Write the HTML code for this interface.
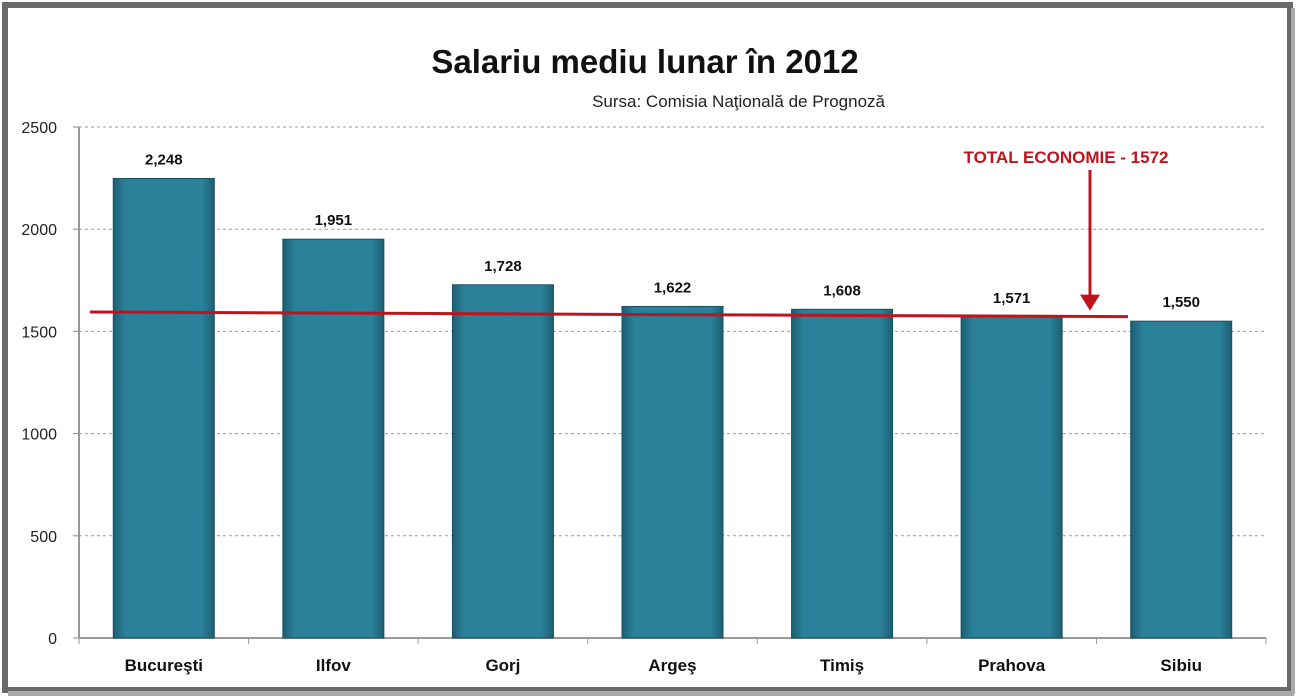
<!DOCTYPE html>
<html><head><meta charset="utf-8"><style>
body{margin:0;background:#fff;}
svg{display:block;font-family:"Liberation Sans",sans-serif;}
</style></head><body>
<svg width="1297" height="700" viewBox="0 0 1297 700">
<defs>
<linearGradient id="bg" x1="0" x2="1"><stop offset="0" stop-color="#1d5f73"/><stop offset="0.12" stop-color="#2a8199"/><stop offset="0.88" stop-color="#2a8199"/><stop offset="1" stop-color="#1d5f73"/></linearGradient>
</defs>
<rect x="0" y="0" width="1297" height="700" fill="#fff"/>
<rect x="5" y="5" width="1285" height="685" fill="none" stroke="#6a6a6a" stroke-width="6"/>
<rect x="8" y="691" width="1286" height="5" fill="#aaa"/>
<rect x="1291" y="8" width="4" height="686" fill="#aaa"/>
<text x="645" y="73" text-anchor="middle" font-size="33" font-weight="bold" fill="#111">Salariu mediu lunar în 2012</text>
<text x="885" y="107" text-anchor="end" font-size="17" fill="#222">Sursa: Comisia Naţională de Prognoză</text>
<g id="grid"></g>
<g id="bars"></g>
<g id="ann"></g>
</svg>
<script>
const categories=["Bucureşti","Ilfov","Gorj","Argeş","Timiş","Prahova","Sibiu"];
const values=[2248,1951,1728,1622,1608,1571,1550];
const valueLabels=["2,248","1,951","1,728","1,622","1,608","1,571","1,550"];
const yTicks=[0,500,1000,1500,2000,2500];
const totalValue=1572;
const totalLineStart=1595;
const ns="http://www.w3.org/2000/svg";
const X0=79,X1=1266,Y0=638,Y1=127,YMAX=2500;
const y=v=>Y0-(v/YMAX)*(Y0-Y1);
const band=(X1-X0)/categories.length;
const xc=i=>X0+band*(i+0.5);
function mk(tag,attrs,parent){const e=document.createElementNS(ns,tag);for(const k in attrs)e.setAttribute(k,attrs[k]);parent.appendChild(e);return e;}
const grid=document.getElementById('grid'),bars=document.getElementById('bars'),ann=document.getElementById('ann');
yTicks.forEach(t=>{
  if(t>0){const l=mk('line',{x1:X0,x2:X1,y1:y(t),y2:y(t),stroke:'#999','stroke-dasharray':'3,3'},grid);
  
  }
  mk('line',{x1:X0-6,x2:X0,y1:y(t),y2:y(t),stroke:'#888'},grid);
  const tx=mk('text',{x:X0-22,y:y(t)+6,'text-anchor':'end','font-size':'16',fill:'#222'},grid);
  tx.textContent=t;
  
  
});
mk('line',{x1:X0,x2:X0,y1:Y1,y2:Y0,stroke:'#999','stroke-width':2},grid);
mk('line',{x1:X0,x2:X1,y1:Y0,y2:Y0,stroke:'#999','stroke-width':2},grid);
for(let i=0;i<=categories.length;i++)mk('line',{x1:X0+band*i,x2:X0+band*i,y1:Y0,y2:Y0+6,stroke:'#999'},grid);
const bw=101;
categories.forEach((c,i)=>{
  const r=mk('rect',{x:xc(i)-bw/2,y:y(values[i]),width:bw,height:Y0-y(values[i]),fill:'url(#bg)',stroke:'#174f60','stroke-width':1},bars);
  
  
  const v=mk('text',{x:xc(i),y:y(values[i])-14,'text-anchor':'middle','font-size':'15','font-weight':'bold',fill:'#111'},bars);
  v.textContent=valueLabels[i];
  
  
  const l=mk('text',{x:xc(i),y:Y0+33,'text-anchor':'middle','font-size':'17','font-weight':'bold',fill:'#111'},bars);
  l.textContent=c;
  
  
});
const tl=mk('line',{x1:90,x2:1128,y1:y(totalLineStart),y2:y(totalValue),stroke:'#c0141c','stroke-width':3},ann);


const ar=mk('line',{x1:1090,x2:1090,y1:170,y2:y(totalValue)-20,stroke:'#c0141c','stroke-width':3},ann);


mk('polygon',{points:`1080,${y(totalValue)-22} 1100,${y(totalValue)-22} 1090,${y(totalValue)-6}`,fill:'#c0141c'},ann);
const at=mk('text',{x:1066,y:163,'text-anchor':'middle','font-size':'17','font-weight':'bold',fill:'#c0141c'},ann);
at.textContent='TOTAL ECONOMIE - '+totalValue;


</script>
</body></html>
